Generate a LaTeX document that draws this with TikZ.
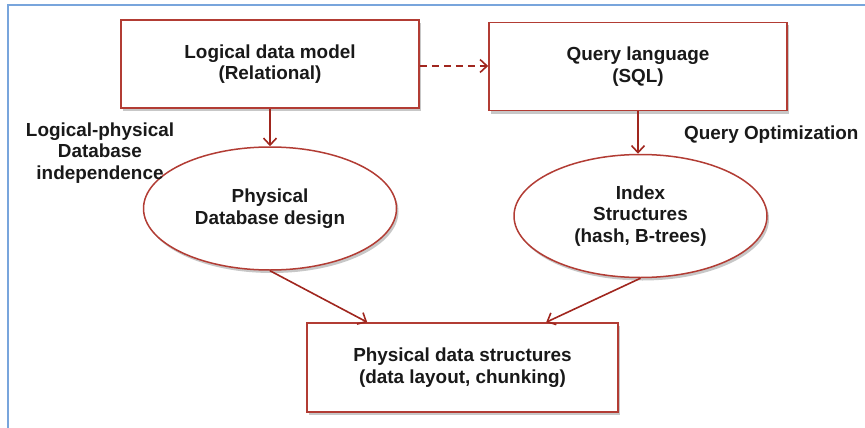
\documentclass[tikz,border=0pt]{standalone}
\usepackage{fontspec}
\setmainfont{Liberation Sans}
\usetikzlibrary{shapes.geometric,arrows.meta,shadows,calc}
\definecolor{boxred}{RGB}{178,60,52}
\definecolor{arrowred}{RGB}{160,38,30}
\definecolor{frameblue}{RGB}{120,165,220}
\tikzset{
  lbl/.style={font=\fontsize{18.9}{21.5}\selectfont\bfseries, align=center, text=black!90},
  shade/.style={drop shadow={shadow xshift=2pt, shadow yshift=-3pt, fill=black, opacity=0.22}},
  rectbox/.style={lbl, draw=boxred, line width=1.6pt, fill=white, shade,
                  minimum width=298pt, minimum height=88pt, inner sep=0pt},
  ellbox/.style={lbl, ellipse, draw=boxred, line width=1.5pt, fill=white, shade,
                 minimum width=253pt, minimum height=123pt, inner sep=0pt},
  link/.style={draw=arrowred, line width=1.6pt, -{Straight Barb[length=7pt,width=13pt,line width=1.6pt]}},
}
\begin{document}
\begin{tikzpicture}[x=1pt, y=-1pt]
  \useasboundingbox (0,0) rectangle (865,428);
  % outer frame, open to the right and bottom
  \draw[frameblue, line width=1.2pt] (8,428) -- (8,5) -- (865,5);

  \node[rectbox] (logical) at (270,64) {Logical data model\\(Relational)};
  \node[rectbox] (query)   at (638,66.5) {Query language\\(SQL)};
  \node[ellbox]  (design)  at (270,208.5) {Physical\\Database design};
  \node[ellbox]  (index)   at (640.5,216) {Index\\Structures\\(hash, B-trees)};
  \node[rectbox, minimum width=311pt, minimum height=89pt] (phys) at (462.5,367.5)
        {Physical data structures\\(data layout, chunking)};

  \node[lbl] (indep) at (100,153) {Logical-physical\\Database\\independence};
  \node[lbl, anchor=east] (opt) at (862,135) {Query Optimization};

  \coordinate (physL) at ($(phys.north west)+(61,0)$);
  \coordinate (physR) at ($(phys.north west)+(240,0)$);

  \draw[link] (logical.south) -- (design.north);
  \draw[link] (query.south) -- (query.south |- index.north);
  \draw[link, dashed, dash pattern=on 7pt off 5pt] (logical.east |- 0,66) -- (query.west |- 0,66);
  \draw[link] (design.south) -- (physL);
  \draw[link] (index.south) -- (physR);
\end{tikzpicture}
\end{document}
